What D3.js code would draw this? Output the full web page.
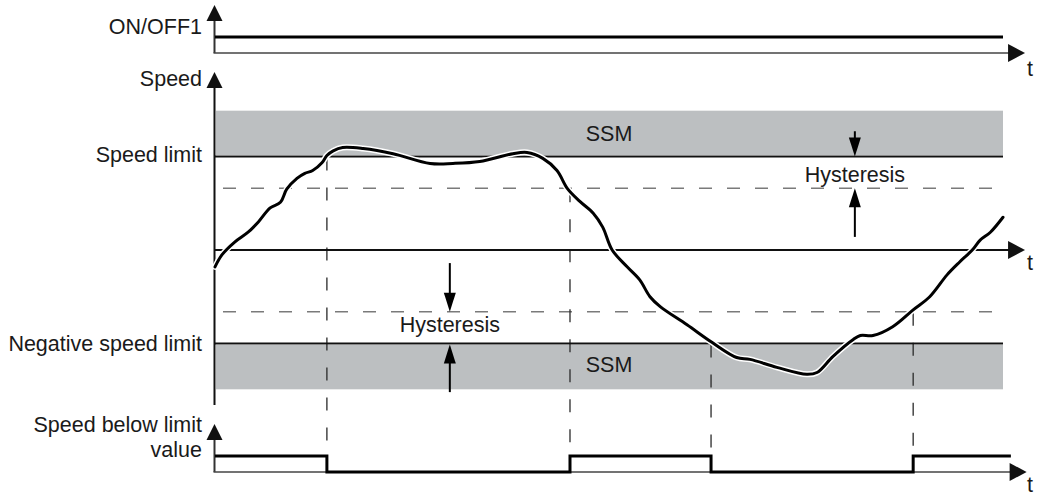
<!DOCTYPE html>
<html><head><meta charset="utf-8">
<script src="https://cdn.jsdelivr.net/npm/d3@7"></script>
<style>
body{margin:0;background:#fff}
svg{display:block}
text{font-family:"Liberation Sans",Arial,Helvetica,sans-serif;font-size:21.5px;fill:#1a1a1a}
</style>
</head><body>
<svg id="c" width="1038" height="496"></svg>
<script>
// ---- data (time 0..100, speed in % of speed limit) ----
const curveT = [0, 0.9, 2.5, 4.2, 5.5, 7.0, 8.3, 9.1, 10.4, 11.4, 12.4, 13.6, 14.2, 15.0, 16.2, 18.8, 22.6, 27.3, 30.2, 33.6, 37.8, 39.6, 41.6, 43.4, 44.7, 46.3, 48.0, 49.2, 50.4, 52.3, 53.9, 55.2, 56.5, 59.9, 63.1, 66.2, 67.9, 71.3, 75.1, 76.4, 78.4, 81.0, 81.9, 83.5, 86.0, 88.6, 90.7, 92.9, 94.5, 96.1, 97.1, 98.4, 100];
const curveV = [-18, -5, 8.5, 19, 30, 45, 51, 65, 76.6, 82, 85, 93.6, 101, 106, 109.6, 108.5, 103, 92.6, 92.6, 94.7, 103, 104.3, 98, 85, 66, 52, 39.4, 24.5, 0, -18, -32, -50, -60.6, -80, -99, -115, -117, -125.5, -133, -131, -114, -95.7, -91.5, -91.5, -82, -64, -50, -26.6, -12.8, 0, 10.6, 19, 35];
const switchT = [14.2, 45.05, 62.95, 88.6];
const belowLevels = [1, 0, 1, 0, 1, 1];
const onOffLevels = [1, 1];
const speedLimit = 100, hysteresis = 66, ssmEdge = 149;
const panelLabels = ["ON/OFF1", "Speed", "Speed limit", "Negative speed limit", "Speed below limit", "value"];
const bandLabel = "SSM", hystLabel = "Hysteresis", timeLabel = "t";
const hystT = [81.2, 29.8];

// ---- scales ----
const svg = d3.select("#c");
const x = d3.scaleLinear().domain([0, 100]).range([215, 1003]);
const y = d3.scaleLinear().domain([-100, 100]).range([343.5, 156.5]);
const yOn = d3.scaleLinear().domain([0, 1]).range([53, 37]);
const yBelow = d3.scaleLinear().domain([0, 1]).range([472, 456]);
const axX = 214.5, tEnd = 102.8;

function triUp(cx, tip, w, h){ return `M${cx},${tip}L${cx-w/2},${tip+h}L${cx+w/2},${tip+h}Z`; }
function triDown(cx, tip, w, h){ return `M${cx},${tip}L${cx-w/2},${tip-h}L${cx+w/2},${tip-h}Z`; }
function triRight(tip, cy, w, h){ return `M${tip},${cy}L${tip-h},${cy-w/2}L${tip-h},${cy+w/2}Z`; }

// ---- SSM bands ----
svg.append("rect").attr("x", x(0)+1).attr("width", x(100)-x(0)-1)
  .attr("y", y(ssmEdge)).attr("height", y(speedLimit)-1.5-y(ssmEdge)).attr("fill", "#bcbfc1");
svg.append("rect").attr("x", x(0)+1).attr("width", x(100)-x(0)-1)
  .attr("y", y(-speedLimit)+1.5).attr("height", y(-ssmEdge)-y(-speedLimit)-1.5).attr("fill", "#bcbfc1");

// hysteresis dashed lines
[hysteresis, -hysteresis].forEach(v=>{
  svg.append("line").attr("x1", x(0)+2).attr("x2", x(100)).attr("y1", y(v)).attr("y2", y(v))
    .attr("stroke", "#7a7a7a").attr("stroke-width", 1.6).attr("stroke-dasharray", "13,15").attr("stroke-dashoffset", -6);
});

// vertical dashed switch lines
const switchTop = [speedLimit, hysteresis, -speedLimit, -hysteresis];
switchT.forEach((t,i)=>{
  svg.append("line").attr("x1", x(t)).attr("x2", x(t)).attr("y1", y(switchTop[i])+1).attr("y2", yBelow(1))
    .attr("stroke", "#2a2a2a").attr("stroke-width", 1.3).attr("stroke-dasharray", "13,17");
});

// speed limit lines
[speedLimit, -speedLimit].forEach(v=>{
  svg.append("line").attr("x1", x(0)).attr("x2", x(100)).attr("y1", y(v)).attr("y2", y(v))
    .attr("stroke", "#111").attr("stroke-width", 2);
});

// ---- axes ----
const axStroke = "#111";
// top panel
svg.append("line").attr("x1", axX).attr("x2", axX).attr("y1", 19).attr("y2", yOn(0)).attr("stroke", "#333").attr("stroke-width", 2);
svg.append("path").attr("d", triUp(axX, 5, 16, 16)).attr("fill", axStroke);
svg.append("line").attr("x1", axX-1).attr("x2", x(tEnd)-14).attr("y1", yOn(0)).attr("y2", yOn(0)).attr("stroke", "#444").attr("stroke-width", 1.6);
svg.append("path").attr("d", triRight(x(tEnd), yOn(0), 18, 17)).attr("fill", axStroke);
// speed panel
svg.append("line").attr("x1", axX).attr("x2", axX).attr("y1", 86).attr("y2", 405).attr("stroke", axStroke).attr("stroke-width", 2);
svg.append("path").attr("d", triUp(axX, 72, 16, 16)).attr("fill", axStroke);
svg.append("line").attr("x1", axX).attr("x2", x(tEnd)-14).attr("y1", y(0)).attr("y2", y(0)).attr("stroke", axStroke).attr("stroke-width", 2);
svg.append("path").attr("d", triRight(x(tEnd), y(0), 18, 17)).attr("fill", axStroke);
// bottom panel
svg.append("line").attr("x1", axX).attr("x2", axX).attr("y1", 438).attr("y2", yBelow(0)).attr("stroke", "#333").attr("stroke-width", 2);
svg.append("path").attr("d", triUp(axX, 424, 16, 16)).attr("fill", axStroke);
svg.append("line").attr("x1", axX-1).attr("x2", x(103)-14).attr("y1", yBelow(0)).attr("y2", yBelow(0)).attr("stroke", "#444").attr("stroke-width", 1.6);
svg.append("path").attr("d", triRight(x(103), yBelow(0), 18, 17)).attr("fill", axStroke);

// ---- signals ----
svg.append("path").datum(onOffLevels.map((v,i)=>[i===0?0:100, v]))
  .attr("d", d3.line().x(d=>x(d[0])).y(d=>yOn(d[1])))
  .attr("fill", "none").attr("stroke", "#000").attr("stroke-width", 3);

const belowPts = [0, ...switchT, 101].map((t,i)=>[t, belowLevels[i]]);
svg.append("path").datum(belowPts)
  .attr("d", d3.line().x(d=>x(d[0])).y(d=>yBelow(d[1])).curve(d3.curveStepAfter))
  .attr("fill", "none").attr("stroke", "#000").attr("stroke-width", 3).attr("stroke-linejoin", "miter");

// ---- speed curve ----
const speedPts = curveT.map((t,i)=>[t, curveV[i]]);
const speedLine = d3.line().x(d=>x(d[0])).y(d=>y(d[1])).curve(d3.curveCatmullRom.alpha(0.5));
svg.append("path").datum(speedPts).attr("d", speedLine).attr("fill", "none")
  .attr("stroke", "#fff").attr("stroke-width", 6).attr("stroke-linecap", "round");
svg.append("path").datum(speedPts).attr("d", speedLine).attr("fill", "none")
  .attr("stroke", "#000").attr("stroke-width", 3).attr("stroke-linecap", "round");

// ---- hysteresis arrows ----
function vArrow(t, fromV, toV){
  const cx = x(t), y1 = y(fromV), y2 = y(toV);
  const dir = y2 > y1 ? 1 : -1;
  svg.append("line").attr("x1", cx).attr("x2", cx).attr("y1", y1).attr("y2", y2 - dir*16).attr("stroke", "#000").attr("stroke-width", 2);
  svg.append("path").attr("d", dir>0 ? triDown(cx, y2, 12, 19) : triUp(cx, y2, 12, 19)).attr("fill", "#000");
}
vArrow(hystT[0], 127, speedLimit);
vArrow(hystT[0], 14, hysteresis);
vArrow(hystT[1], -14, -hysteresis);
vArrow(hystT[1], -152, -speedLimit - 1);

// ---- texts ----
const lab = (txt, px, py, anchor) => svg.append("text").attr("x", px).attr("y", py).attr("text-anchor", anchor||"end").text(txt);
lab(panelLabels[0], 202, 34);
lab(panelLabels[1], 202, 86);
lab(panelLabels[2], 202, 162);
lab(panelLabels[3], 202, 351);
lab(panelLabels[4], 202, 432);
lab(panelLabels[5], 202, 457);
lab(bandLabel, 609, 141, "middle");
lab(bandLabel, 609, 372, "middle");
lab(hystLabel, x(hystT[0]), 182, "middle");
lab(hystLabel, x(hystT[1]), 332, "middle");
lab(timeLabel, 1027, 76, "start");
lab(timeLabel, 1027, 270, "start");
lab(timeLabel, 1027, 492, "start");
</script>
</body></html>
